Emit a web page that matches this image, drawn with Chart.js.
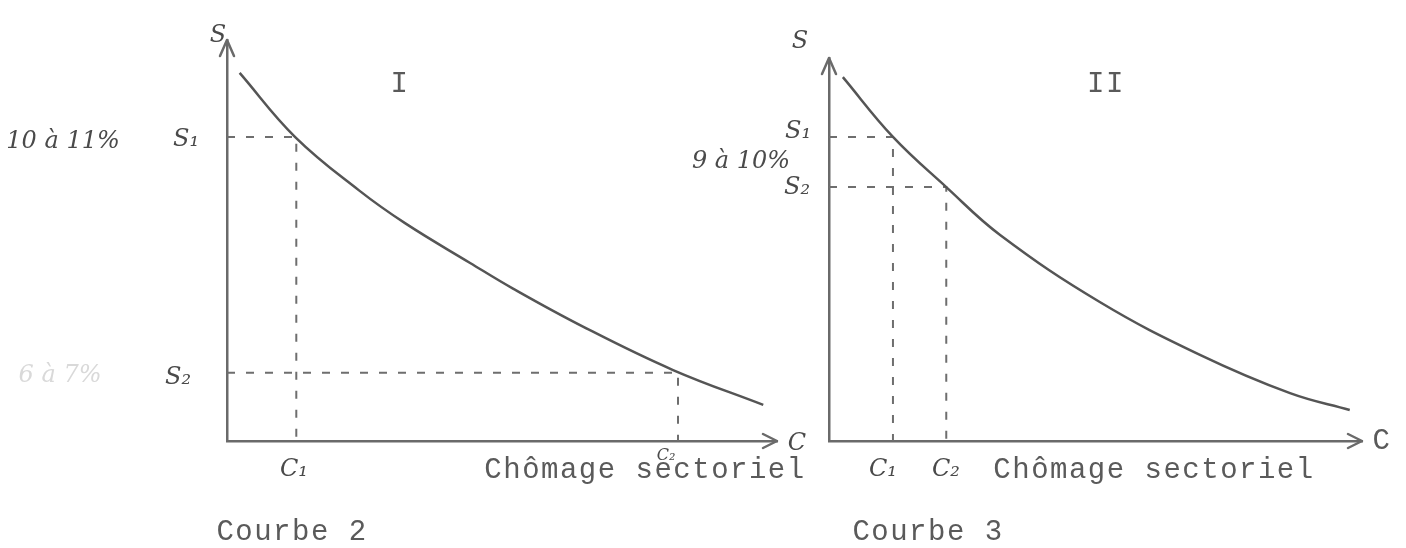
<!DOCTYPE html>
<html>
<head>
<meta charset="utf-8">
<script src="https://cdn.jsdelivr.net/npm/chart.js@4.4.1/dist/chart.umd.min.js"></script>
<style>
body { margin:0; background:#fff; width:1406px; height:548px; position:relative; overflow:hidden; }
canvas { position:absolute; top:0; }
#chart1 { left:0; }
#chart2 { left:800px; }
.t { position:absolute; white-space:nowrap; font-family:"Liberation Mono", monospace; font-size:29px; letter-spacing:1.5px; color:#5a5a5a; transform:translate(-50%,-50%); }
.h { position:absolute; white-space:nowrap; font-family:"DejaVu Serif", serif; font-style:italic; font-size:24px; color:#4a4a4a; transform:translate(-50%,-50%); }
.faint { color:#d9d9d9; }
.small { font-size:16px; }
</style>
</head>
<body>
<canvas id="chart1" width="800" height="548"></canvas>
<canvas id="chart2" width="606" height="548"></canvas>

<!-- Courbe 2 (graphe I) -->
<div class="h" style="left:218px;top:34px">S</div>
<div class="t" style="left:400px;top:84px">I</div>
<div class="h" style="left:63px;top:140px">10 à 11%</div>
<div class="h" style="left:186px;top:138px">S₁</div>
<div class="h faint" style="left:60px;top:374px">6 à 7%</div>
<div class="h" style="left:178px;top:376px">S₂</div>
<div class="h" style="left:294px;top:468px">C₁</div>
<div class="h small" style="left:666px;top:454px">C₂</div>
<div class="h" style="left:797px;top:442px">C</div>
<div class="t" style="left:645px;top:470px">Chômage sectoriel</div>
<div class="t" style="left:292px;top:532px">Courbe 2</div>

<!-- Courbe 3 (graphe II) -->
<div class="h" style="left:800px;top:40px">S</div>
<div class="t" style="left:1106px;top:84px">II</div>
<div class="h" style="left:798px;top:130px">S₁</div>
<div class="h" style="left:741px;top:160px">9 à 10%</div>
<div class="h" style="left:797px;top:186px">S₂</div>
<div class="h" style="left:883px;top:468px">C₁</div>
<div class="h" style="left:946px;top:468px">C₂</div>
<div class="t" style="left:1382px;top:441px">C</div>
<div class="t" style="left:1154px;top:470px">Chômage sectoriel</div>
<div class="t" style="left:928px;top:532px">Courbe 3</div>

<script>
// graphe I : taux de salaire S en fonction du chômage sectoriel C
var curveX1 = [2.3, 12.4, 24.0, 32.5, 44.2, 52.0, 64.9, 81.1, 97.5];
var curveY1 = [91.8, 75.8, 62.5, 54.2, 44.4, 38.0, 28.4, 17.7, 9.0];
var guideC1 = [12.6, 82.0];   // C1, C2
var guideS1 = [75.8, 17.0];   // S1, S2

// graphe II
var curveX2 = [2.6, 12.0, 22.0, 32.1, 50.8, 69.6, 86.5, 97.7];
var curveY2 = [95.0, 79.4, 66.3, 53.8, 36.3, 22.5, 12.5, 8.1];
var guideC2 = [12.0, 22.0];
var guideS2 = [79.4, 66.3];

var inkColor = '#555555';
var axisColor = '#6a6a6a';

// fleches au bout des axes
var arrowPlugin = {
    id: 'arrows',
    afterDraw: function (chart) {
        var ctx = chart.ctx;
        var a = chart.chartArea;
        ctx.save();
        ctx.strokeStyle = axisColor;
        ctx.lineWidth = 2.5;
        ctx.lineCap = 'round';
        ctx.lineJoin = 'round';
        ctx.beginPath();
        ctx.moveTo(a.left - 7, a.top + 16);
        ctx.lineTo(a.left, a.top);
        ctx.lineTo(a.left + 7, a.top + 16);
        ctx.moveTo(a.right - 14, a.bottom - 7);
        ctx.lineTo(a.right, a.bottom);
        ctx.lineTo(a.right - 14, a.bottom + 7);
        ctx.stroke();
        ctx.restore();
    }
};

function toPoints(xs, ys) {
    return xs.map(function (x, i) { return { x: x, y: ys[i] }; });
}

function guide(c, s) {
    return {
        data: [{ x: 0, y: s }, { x: c, y: s }, { x: c, y: 0 }],
        borderColor: '#6e6e6e',
        borderWidth: 2,
        borderDash: [8, 11],
        pointRadius: 0,
        tension: 0
    };
}

function buildChart(id, xs, ys, cs, ss, pad) {
    var ctx = document.getElementById(id).getContext('2d');
    var axis = {
        type: 'linear',
        min: 0,
        max: 100,
        ticks: { display: false },
        grid: { display: false, drawTicks: false },
        border: { display: true, color: axisColor, width: 2.5 }
    };
    return new Chart(ctx, {
        type: 'line',
        data: {
            datasets: [
                {
                    data: toPoints(xs, ys),
                    borderColor: inkColor,
                    borderWidth: 2.5,
                    pointRadius: 0,
                    tension: 0.4
                },
                guide(cs[0], ss[0]),
                guide(cs[1], ss[1])
            ]
        },
        options: {
            responsive: false,
            animation: false,
            layout: { padding: pad },
            plugins: { legend: { display: false }, tooltip: { enabled: false } },
            scales: { x: axis, y: Object.assign({}, axis) }
        },
        plugins: [arrowPlugin]
    });
}

buildChart('chart1', curveX1, curveY1, guideC1, guideS1, { left: 227, top: 40, right: 23, bottom: 107 });
buildChart('chart2', curveX2, curveY2, guideC2, guideS2, { left: 29, top: 58, right: 44, bottom: 107 });
</script>
</body>
</html>
